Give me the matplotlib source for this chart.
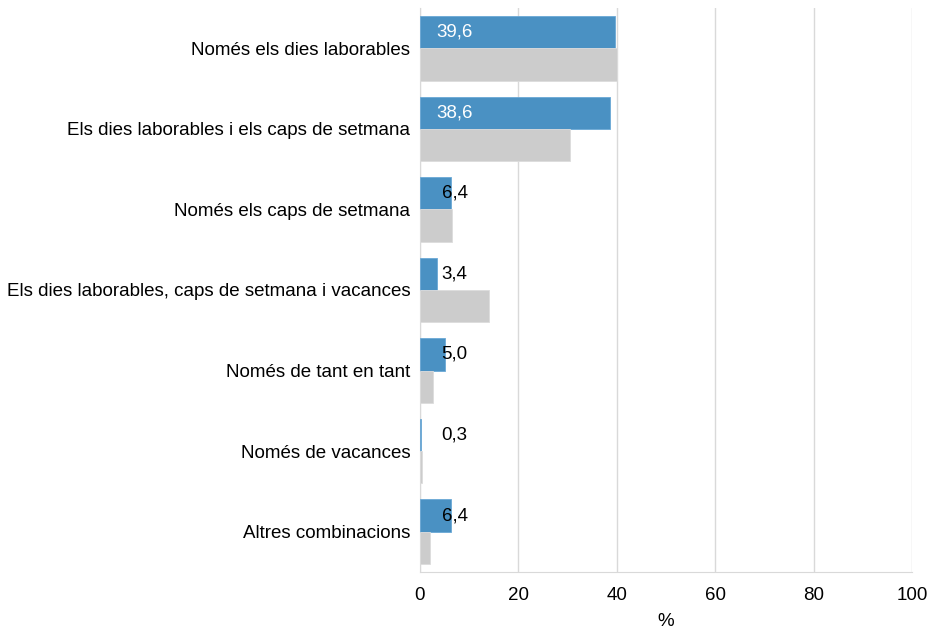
import numpy as np
import matplotlib.pyplot as plt

plt.rcParams['font.family'] = ['Liberation Sans', 'DejaVu Sans']

categories = ['Només els dies laborables',
              'Els dies laborables i els caps de setmana',
              'Només els caps de setmana',
              'Els dies laborables, caps de setmana i vacances',
              'Només de tant en tant',
              'Només de vacances',
              'Altres combinacions']
blue_values = [39.6, 38.6, 6.4, 3.4, 5.0, 0.3, 6.4]
gray_values = [40.1, 30.5, 6.6, 14.1, 2.7, 0.4, 2.1]
blue_labels = ['39,6', '38,6', '6,4', '3,4', '5,0', '0,3', '6,4']

fs = 13.5
fig = plt.figure(figsize=(9.32, 6.3), dpi=100)
ax = fig.add_axes([0.4506, 0.0921, 0.5279, 0.8952])

y = np.arange(len(categories))
h = 0.4
ax.barh(y - h / 2, blue_values, height=h, color='#4a91c3', edgecolor='#6aa8d6', linewidth=0.6, zorder=3)
ax.barh(y + h / 2, gray_values, height=h, color='#cccccc', edgecolor='#dcdcdc', linewidth=0.6, zorder=3)

for i, (v, lab) in enumerate(zip(blue_values, blue_labels)):
    if v > 20:
        ax.text(3.4, i - h / 2, lab, color='white', fontsize=fs, va='center', ha='left', zorder=4)
    else:
        ax.text(4.4, i - h / 2, lab, color='black', fontsize=fs, va='center', ha='left', zorder=4)

ax.set_yticks(y)
ax.set_yticklabels(categories, fontsize=fs)
ax.set_ylim(len(categories) - 0.5, -0.5)
ax.set_xlim(0, 100)
ax.set_xticks([0, 20, 40, 60, 80, 100])
ax.tick_params(axis='x', labelsize=fs, length=0, pad=11)
ax.tick_params(axis='y', length=0, pad=7)
ax.set_xlabel('%', fontsize=fs, labelpad=6)
ax.grid(axis='x', color='#d9d9d9', linewidth=1, zorder=0)
for s in ['top', 'right']:
    ax.spines[s].set_visible(False)
ax.spines['left'].set_color('#d9d9d9')
ax.spines['bottom'].set_color('#d9d9d9')

fig.savefig('out.png', dpi=100)
